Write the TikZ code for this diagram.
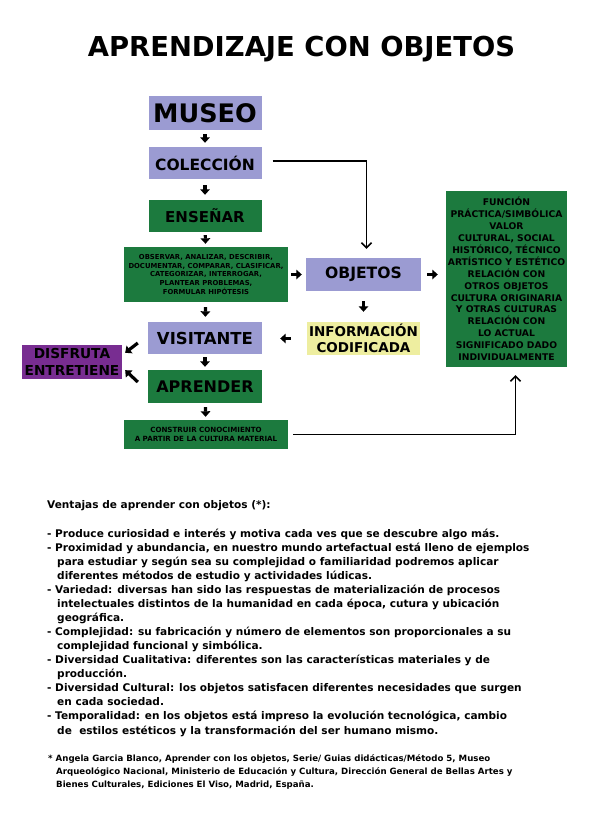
\documentclass[tikz,border=0pt]{standalone}
\usepackage{fontspec}
\setmainfont{DejaVu Sans}
\usetikzlibrary{arrows.meta}
\definecolor{lila}{RGB}{155,155,210}
\definecolor{verde}{RGB}{28,122,62}
\definecolor{morado}{RGB}{120,45,145}
\definecolor{crema}{RGB}{238,238,160}
\tikzset{
  caja/.style={inner sep=0pt, align=center, font=\bfseries},
  flecha/.style={line width=3.2pt, -{Triangle[length=5.5pt,width=9.5pt]}},
  linea/.style={line width=1.5pt, -{Straight Barb[length=5pt,width=10pt]}}
}
\begin{document}
\begin{tikzpicture}[x=1pt,y=-1pt]
\useasboundingbox (0,0) rectangle (589,833);

\node[anchor=base, font=\bfseries\fontsize{27.4}{30}\selectfont] (titulo) at (301.5,56) {APRENDIZAJE CON OBJETOS};

% columna central
\node[caja, fill=lila, minimum width=113, minimum height=34, font=\bfseries\fontsize{25.5}{28}\selectfont] (museo) at (205,113) {MUSEO};
\node[caja, fill=lila, minimum width=113, minimum height=32, font=\bfseries\fontsize{15.5}{17}\selectfont] (coleccion) at (205,163) {COLECCIÓN};
\node[caja, fill=verde, minimum width=113, minimum height=32, font=\bfseries\fontsize{15}{17}\selectfont] (ensenar) at (205,216) {ENSEÑAR};
\node[caja, fill=verde, minimum width=164, minimum height=55, font=\bfseries\fontsize{6.84}{8.7}\selectfont] (observar) at (206,274.5)
  {OBSERVAR, ANALIZAR, DESCRIBIR,\\DOCUMENTAR, COMPARAR, CLASIFICAR,\\CATEGORIZAR, INTERROGAR,\\PLANTEAR PROBLEMAS,\\FORMULAR HIPÓTESIS};
\node[caja, fill=lila, minimum width=114, minimum height=32, font=\bfseries\fontsize{16.5}{18}\selectfont] (visitante) at (205,338) {VISITANTE};
\node[caja, fill=verde, minimum width=114, minimum height=33, font=\bfseries\fontsize{16}{18}\selectfont] (aprender) at (205,386.5) {APRENDER};
\node[caja, fill=verde, minimum width=164, minimum height=29, font=\bfseries\fontsize{7.1}{9}\selectfont] (construir) at (206,434.5)
  {CONSTRUIR CONOCIMIENTO\\A PARTIR DE LA CULTURA MATERIAL};
\node[caja, fill=morado, minimum width=100, minimum height=34, font=\bfseries\fontsize{13.7}{17}\selectfont] (disfruta) at (72,362) {DISFRUTA\\ENTRETIENE};

% columna derecha
\node[caja, fill=lila, minimum width=115, minimum height=33, font=\bfseries\fontsize{15.6}{17}\selectfont] (objetos) at (363.5,274.5) {OBJETOS};
\node[caja, fill=crema, minimum width=113, minimum height=33, font=\bfseries\fontsize{13.5}{16.5}\selectfont] (info) at (363.5,338.5) {INFORMACIÓN\\CODIFICADA};
\node[caja, fill=verde, minimum width=121, minimum height=176, font=\bfseries\fontsize{9.2}{11.9}\selectfont] (funcion) at (506.5,279)
  {FUNCIÓN\\PRÁCTICA/SIMBÓLICA\\VALOR\\CULTURAL, SOCIAL\\HISTÓRICO, TÉCNICO\\ARTÍSTICO Y ESTÉTICO\\RELACIÓN CON\\OTROS OBJETOS\\CULTURA ORIGINARIA\\Y OTRAS CULTURAS\\RELACIÓN CON\\LO ACTUAL\\SIGNIFICADO DADO\\INDIVIDUALMENTE};

% flechas cortas
\draw[flecha, shorten <=4pt, shorten >=4pt] (museo) -- (coleccion);
\draw[flecha, shorten <=6pt, shorten >=5pt] (coleccion) -- (ensenar);
\draw[flecha, shorten <=3pt, shorten >=3pt] (ensenar) -- (observar);
\draw[flecha, shorten <=5pt, shorten >=5pt] (observar) -- (visitante);
\draw[flecha, shorten <=3pt, shorten >=3pt] (visitante) -- (aprender);
\draw[flecha, shorten <=4pt, shorten >=3pt] (aprender) -- (construir);
\draw[flecha, shorten <=3pt, shorten >=4pt] (observar.east |- objetos.west) -- (objetos.west);
\draw[flecha, shorten <=6pt, shorten >=8pt] (objetos.east) -- (objetos.east -| funcion.west);
\draw[flecha, shorten <=10pt, shorten >=10pt] (objetos) -- (info);
\draw[flecha, shorten <=16pt, shorten >=18pt] (info.west) -- (info.west -| visitante.east);
\draw[flecha] ([shift={(-10,5)}]visitante.west) -- ([shift={(3,8)}]disfruta.north east);
\draw[flecha] ([shift={(-10,-4.5)}]aprender.west) -- ([shift={(3,-9)}]disfruta.south east);

% conectores largos
\draw[linea, shorten <=11pt, shorten >=9pt] ([yshift=2pt]coleccion.east) -| ([xshift=3pt]objetos.north);
\draw[linea, shorten <=5pt, shorten >=8pt] (construir.east) -| ([xshift=9pt]funcion.south);

% texto (base = ultima linea)
\node[anchor=base west, align=left, inner sep=0pt, font=\bfseries\fontsize{10.55}{14.07}\selectfont] (ventajas) at (47,734)
  {Ventajas de aprender con objetos (*):\\[14.07pt]
  - Produce curiosidad e interés y motiva cada ves que se descubre algo más.\\
  - Proximidad y abundancia, en nuestro mundo artefactual está lleno de ejemplos\\
  \hspace*{10pt}para estudiar y según sea su complejidad o familiaridad podremos aplicar\\
  \hspace*{10pt}diferentes métodos de estudio y actividades lúdicas.\\
  - Variedad: diversas han sido las respuestas de materialización de procesos\\
  \hspace*{10pt}intelectuales distintos de la humanidad en cada época, cutura y ubicación\\
  \hspace*{10pt}geográfica.\\
  - Complejidad: su fabricación y número de elementos son proporcionales a su\\
  \hspace*{10pt}complejidad funcional y simbólica.\\
  - Diversidad Cualitativa: diferentes son las características materiales y de\\
  \hspace*{10pt}producción.\\
  - Diversidad Cultural: los objetos satisfacen diferentes necesidades que surgen\\
  \hspace*{10pt}en cada sociedad.\\
  - Temporalidad: en los objetos está impreso la evolución tecnológica, cambio\\
  \hspace*{10pt}de\ \ estilos estéticos y la transformación del ser humano mismo.};
\node[anchor=base west, align=left, inner sep=0pt, font=\bfseries\fontsize{8.62}{13.3}\selectfont] (nota) at (48,787.6)
  {* Angela Garcia Blanco, Aprender con los objetos, Serie/ Guias didácticas/Método 5, Museo\\
  \hspace*{8pt}Arqueológico Nacional, Ministerio de Educación y Cultura, Dirección General de Bellas Artes y\\
  \hspace*{8pt}Bienes Culturales, Ediciones El Viso, Madrid, España.};
\end{tikzpicture}
\end{document}
